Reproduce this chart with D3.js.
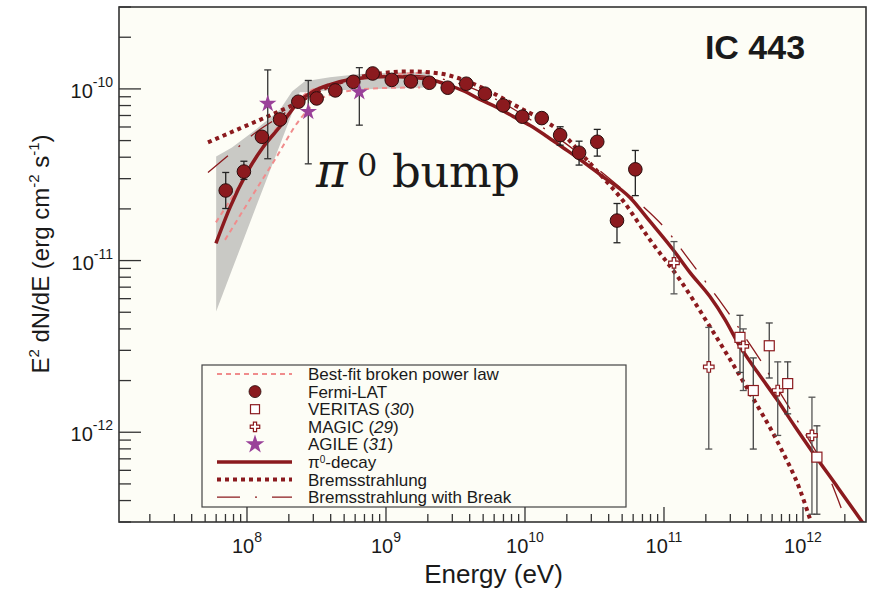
<!DOCTYPE html>
<html lang="en">
<head>
<meta charset="utf-8">
<title>IC 443 - gamma-ray spectrum</title>
<script src="https://cdnjs.cloudflare.com/ajax/libs/d3/7.8.5/d3.min.js"></script>
<style>
  body { margin: 0; background: #fff; }
  text { font-family: "Liberation Sans", Arial, Helvetica, sans-serif; fill: #1a1a1a; }
</style>
</head>
<body>
<script>
// values: energy in eV, E^2 dN/dE in erg cm^-2 s^-1

// Fermi-LAT points
var fermiE  = [7.03e7, 9.5e7, 1.28e8, 1.73e8, 2.34e8, 3.17e8, 4.32e8, 5.82e8, 8.02e8, 1.10e9, 1.51e9, 2.05e9,
               2.78e9, 3.78e9, 5.15e9, 6.98e9, 9.57e9, 1.32e10, 1.79e10, 2.45e10, 3.31e10, 4.59e10, 6.22e10];
var fermiF  = [2.56e-11, 3.30e-11, 5.26e-11, 6.64e-11, 8.42e-11, 8.80e-11, 9.80e-11, 1.10e-10, 1.23e-10, 1.128e-10, 1.106e-10, 1.086e-10,
               1.016e-10, 1.072e-10, 9.38e-11, 8.01e-11, 6.89e-11, 6.76e-11, 5.38e-11, 4.25e-11, 4.92e-11, 1.71e-11, 3.40e-11];
var fermiHi = [3.26e-11, 3.79e-11, 5.5e-11, 6.95e-11, 8.8e-11, 9.2e-11, 1.02e-10, 1.15e-10, 1.28e-10, 1.18e-10, 1.16e-10, 1.14e-10,
               1.06e-10, 1.12e-10, 9.8e-11, 8.4e-11, 7.25e-11, 7.2e-11, 6.02e-11, 4.96e-11, 5.81e-11, 2.15e-11, 4.38e-11];
var fermiLo = [2.01e-11, 2.97e-11, 5.0e-11, 6.35e-11, 8.05e-11, 8.4e-11, 9.4e-11, 1.05e-10, 1.18e-10, 1.08e-10, 1.06e-10, 1.04e-10,
               9.7e-11, 1.03e-10, 8.95e-11, 7.6e-11, 6.5e-11, 6.35e-11, 4.70e-11, 3.60e-11, 4.06e-11, 1.27e-11, 2.39e-11];

// AGILE (31)
var agileE  = [1.41e8, 2.76e8, 6.43e8];
var agileF  = [8.20e-11, 7.36e-11, 9.58e-11];
var agileHi = [1.29e-10, 1.12e-10, 1.33e-10];
var agileLo = [3.92e-11, 3.66e-11, 6.15e-11];

// VERITAS (30)
var veritasE  = [3.52e11, 4.39e11, 5.72e11, 7.76e11, 1.26e12];
var veritasF  = [3.57e-12, 1.75e-12, 3.19e-12, 1.92e-12, 7.16e-13];
var veritasHi = [4.80e-12, 2.71e-12, 4.33e-12, 2.57e-12, 1.09e-12];
var veritasLo = [2.23e-12, 7.98e-13, 2.07e-12, 1.28e-12, 3.33e-13];

// MAGIC (29)
var magicE  = [1.18e11, 2.10e11, 3.72e11, 6.58e11, 1.16e12];
var magicF  = [9.70e-12, 2.40e-12, 3.16e-12, 1.75e-12, 9.58e-13];
var magicHi = [1.29e-11, 4.08e-12, 4.00e-12, 2.57e-12, 1.60e-12];
var magicLo = [6.40e-12, 7.98e-13, 1.75e-12, 9.58e-13, 3.33e-13];

// pi0-decay model
var pionE = [5.98e7, 7.55e7, 1.00e8, 1.30e8, 1.73e8, 2.33e8, 2.99e8, 3.95e8, 5.51e8, 7.67e8, 1.07e9, 1.49e9,
             2.07e9, 2.75e9, 3.70e9, 4.74e9, 6.30e9, 8.20e9, 1.09e10, 1.44e10, 1.87e10, 2.49e10, 3.47e10, 5.69e10,
             7.93e10, 1.16e11, 1.54e11, 2.14e11, 2.75e11, 3.52e11, 4.74e11, 6.50e11, 8.75e11, 1.18e12, 1.79e12, 2.70e12];
var pionF = [1.26e-11, 2.04e-11, 3.26e-11, 4.56e-11, 6.04e-11, 8.34e-11, 9.66e-11, 1.06e-10, 1.135e-10, 1.167e-10, 1.183e-10, 1.167e-10,
             1.135e-10, 1.06e-10, 9.66e-11, 8.69e-11, 7.80e-11, 6.92e-11, 6.12e-11, 5.28e-11, 4.56e-11, 3.88e-11, 3.17e-11, 2.33e-11,
             1.69e-11, 1.16e-11, 8.51e-12, 6.17e-12, 4.53e-12, 3.16e-12, 2.22e-12, 1.55e-12, 1.08e-12, 7.60e-13, 4.74e-13, 2.96e-13];

// Bremsstrahlung model
var bremE = [5.24e7, 8.91e7, 1.46e8, 2.33e8, 3.35e8, 5.51e8, 9.06e8, 1.49e9, 2.44e9, 3.70e9, 5.60e9, 8.47e9,
             1.28e10, 1.79e10, 2.61e10, 3.58e10, 4.99e10, 7.93e10, 1.30e11, 2.14e11, 4.02e11, 6.84e11, 9.51e11, 1.14e12];
var bremF = [4.88e-11, 5.89e-11, 7.00e-11, 8.34e-11, 9.80e-11, 1.135e-10, 1.23e-10, 1.265e-10, 1.23e-10, 1.12e-10, 9.66e-11, 8.02e-11,
             6.73e-11, 5.65e-11, 4.09e-11, 3.09e-11, 2.27e-11, 1.32e-11, 7.74e-12, 4.12e-12, 1.77e-12, 8.22e-13, 4.62e-13, 3.01e-13];

// Bremsstrahlung with break
var breakE = [5.24e7, 7.80e7, 1.18e8, 1.73e8, 2.40e8, 3.35e8, 5.51e8, 9.06e8, 1.49e9, 2.44e9, 4.02e9, 6.61e9,
              1.09e10, 1.79e10, 2.94e10, 4.82e10, 7.06e10, 1.02e11, 1.44e11, 1.94e11, 2.70e11, 3.52e11, 4.91e11,
              6.84e11, 1.00e12, 1.49e12, 2.00e12];
var breakF = [3.26e-11, 4.27e-11, 5.65e-11, 6.92e-11, 8.34e-11, 9.66e-11, 1.11e-10, 1.18e-10, 1.20e-10, 1.15e-10, 1.02e-10, 8.45e-11,
              6.64e-11, 5.08e-11, 3.72e-11, 2.67e-11, 2.07e-11, 1.54e-11, 1.07e-11, 7.74e-12, 5.40e-12, 3.96e-12, 2.65e-12,
              1.70e-12, 1.03e-12, 5.81e-13, 3.17e-13];

// best-fit broken power law (two dashed pink traces) and its uncertainty band
var bplAE = [5.98e7, 8.91e7, 1.28e8, 1.87e8, 2.61e8, 3.95e8, 6.50e8, 1.26e9, 2.07e9];
var bplAF = [1.67e-11, 2.77e-11, 4.44e-11, 6.82e-11, 9.29e-11, 1.06e-10, 1.15e-10, 1.22e-10, 1.25e-10];
var bplBE = [6.95e7, 1.05e8, 1.59e8, 2.40e8, 3.35e8, 5.07e8, 9.06e8, 1.76e9];
var bplBF = [1.32e-11, 2.27e-11, 3.88e-11, 6.64e-11, 8.69e-11, 9.66e-11, 1.01e-10, 1.02e-10];
var bandE  = [6.0e7, 7.8e7, 1.16e8, 1.73e8, 2.11e8, 2.4e8, 2.61e8, 3.95e8, 6.5e8, 1.26e9, 2.07e9];
var bandHi = [4.04e-11, 4.56e-11, 5.81e-11, 7.59e-11, 9.66e-11, 1.05e-10, 1.11e-10, 1.17e-10, 1.22e-10, 1.25e-10, 1.25e-10];
var bandLo = [5.05e-12, 8.83e-12, 2.05e-11, 4.74e-11, 7.21e-11, 9.55e-11, 9.55e-11, 9.8e-11, 9.93e-11, 1.01e-10, 1.02e-10];

// axis tick labels (powers of ten)
var xTickExps = [8, 9, 10, 11, 12];
var yTickExps = [-10, -11, -12];

var legendLabels = ["Best-fit broken power law", "Fermi-LAT", "VERITAS (", "MAGIC (", "AGILE (", "-decay", "Bremsstrahlung", "Bremsstrahlung with Break"];
var legendRefs   = [null, null, "30", "29", "31", null, null, null];

// ---- layout
var width = 873, height = 594;
var plot = {left: 119, right: 866, top: 7, bottom: 522};
var darkRed = "#8b1a1e", pink = "#f08c8c", purple = "#9a4199", cream = "#fdfdf6", ink = "#333";

var x = d3.scaleLog().domain([1.2e7, 2.84e12]).range([plot.left, plot.right]);
var y = d3.scaleLog().domain([3e-13, 3e-10]).range([plot.bottom, plot.top]);

var svg = d3.select("body").append("svg")
    .attr("width", width)
    .attr("height", height);

svg.append("rect").attr("width", width).attr("height", height).attr("fill", "#fff");
svg.append("rect")
    .attr("x", plot.left).attr("y", plot.top)
    .attr("width", plot.right - plot.left).attr("height", plot.bottom - plot.top)
    .attr("fill", cream);

svg.append("clipPath").attr("id", "clip")
  .append("rect")
    .attr("x", plot.left).attr("y", plot.top)
    .attr("width", plot.right - plot.left).attr("height", plot.bottom - plot.top);

var g = svg.append("g").attr("clip-path", "url(#clip)");

function rows(e, f, lo, hi) {
    return e.map(function(v, i) {
        return {e: v, f: f[i], lo: lo ? lo[i] : null, hi: hi ? hi[i] : null};
    });
}

var line = d3.line()
    .x(function(d) { return x(d.e); })
    .y(function(d) { return y(d.f); })
    .curve(d3.curveMonotoneX);

// uncertainty band
var band = d3.area()
    .x(function(d) { return x(d.e); })
    .y0(function(d) { return y(d.lo); })
    .y1(function(d) { return y(d.hi); });

g.append("path")
    .datum(rows(bandE, bandHi, bandLo, bandHi))
    .attr("d", band)
    .attr("fill", "#c9c9c5");

// model curves
g.append("path").datum(rows(bplAE, bplAF)).attr("d", line)
    .attr("fill", "none").attr("stroke", pink).attr("stroke-width", 2).attr("stroke-dasharray", "5,4");
g.append("path").datum(rows(bplBE, bplBF)).attr("d", line)
    .attr("fill", "none").attr("stroke", pink).attr("stroke-width", 2).attr("stroke-dasharray", "5,4");

g.append("path").datum(rows(breakE, breakF)).attr("d", line)
    .attr("fill", "none").attr("stroke", darkRed).attr("stroke-width", 1.3)
    .attr("stroke-dasharray", "26,14,2,14");

g.append("path").datum(rows(bremE, bremF)).attr("d", line)
    .attr("fill", "none").attr("stroke", darkRed).attr("stroke-width", 4)
    .attr("stroke-dasharray", "4,4");

g.append("path").datum(rows(pionE, pionF)).attr("d", line)
    .attr("fill", "none").attr("stroke", darkRed).attr("stroke-width", 3.5);

// error bars
function errorBars(data, color) {
    var eb = g.append("g")
        .attr("stroke", color)
        .attr("stroke-width", 1.3)
      .selectAll("g")
      .data(data)
      .enter().append("g");
    eb.append("line")
        .attr("x1", function(d) { return x(d.e); })
        .attr("x2", function(d) { return x(d.e); })
        .attr("y1", function(d) { return y(d.lo); })
        .attr("y2", function(d) { return y(d.hi); });
    ["lo", "hi"].forEach(function(k) {
        eb.append("line")
            .attr("x1", function(d) { return x(d.e) - 3.5; })
            .attr("x2", function(d) { return x(d.e) + 3.5; })
            .attr("y1", function(d) { return y(d[k]); })
            .attr("y2", function(d) { return y(d[k]); });
    });
}

var fermi = rows(fermiE, fermiF, fermiLo, fermiHi);
var agile = rows(agileE, agileF, agileLo, agileHi);
var veritas = rows(veritasE, veritasF, veritasLo, veritasHi);
var magic = rows(magicE, magicF, magicLo, magicHi);

errorBars(magic, "#555");
errorBars(veritas, "#444");
errorBars(fermi, "#222");
errorBars(agile, "#333");

var star = d3.symbol().type(d3.symbolStar).size(95);
var cross = d3.symbol().type(d3.symbolCross).size(62);

function translate(d) { return "translate(" + x(d.e) + "," + y(d.f) + ")"; }

g.selectAll(".veritas").data(veritas).enter().append("rect")
    .attr("class", "veritas")
    .attr("x", function(d) { return x(d.e) - 5; })
    .attr("y", function(d) { return y(d.f) - 5; })
    .attr("width", 10).attr("height", 10)
    .attr("fill", "#fff").attr("stroke", darkRed).attr("stroke-width", 1.2);

g.selectAll(".magic").data(magic).enter().append("path")
    .attr("class", "magic")
    .attr("transform", translate)
    .attr("d", cross)
    .attr("fill", "#fff").attr("stroke", darkRed).attr("stroke-width", 1.2);

g.selectAll(".fermi").data(fermi).enter().append("circle")
    .attr("class", "fermi")
    .attr("cx", function(d) { return x(d.e); })
    .attr("cy", function(d) { return y(d.f); })
    .attr("r", 6.8)
    .attr("fill", darkRed).attr("stroke", "#2a0c0c").attr("stroke-width", 1);

g.selectAll(".agile").data(agile).enter().append("path")
    .attr("class", "agile")
    .attr("transform", translate)
    .attr("d", star)
    .attr("fill", purple);

// ---- legend
var lg = svg.append("g");
lg.append("rect")
    .attr("x", 202).attr("y", 365).attr("width", 424).attr("height", 142)
    .attr("fill", cream).attr("stroke", "#444").attr("stroke-width", 1.2);

var rowY = function(i) { return 374 + i * 17.6; };
var sx0 = 217, sx1 = 292, smid = 255;

lg.append("line").attr("x1", sx0).attr("x2", sx1).attr("y1", rowY(0)).attr("y2", rowY(0))
    .attr("stroke", pink).attr("stroke-width", 2).attr("stroke-dasharray", "5,4");
lg.append("circle").attr("cx", smid).attr("cy", rowY(1)).attr("r", 6)
    .attr("fill", darkRed).attr("stroke", "#2a0c0c").attr("stroke-width", 0.8);
lg.append("rect").attr("x", smid - 4.5).attr("y", rowY(2) - 4.5).attr("width", 9).attr("height", 9)
    .attr("fill", "#fff").attr("stroke", darkRed).attr("stroke-width", 1.2);
lg.append("path").attr("transform", "translate(" + smid + "," + rowY(3) + ")")
    .attr("d", d3.symbol().type(d3.symbolCross).size(50))
    .attr("fill", "#fff").attr("stroke", darkRed).attr("stroke-width", 1.2);
lg.append("path").attr("transform", "translate(" + smid + "," + rowY(4) + ")")
    .attr("d", d3.symbol().type(d3.symbolStar).size(110))
    .attr("fill", purple);
lg.append("line").attr("x1", sx0).attr("x2", sx1).attr("y1", rowY(5)).attr("y2", rowY(5))
    .attr("stroke", darkRed).attr("stroke-width", 3.5);
lg.append("line").attr("x1", sx0).attr("x2", sx1).attr("y1", rowY(6)).attr("y2", rowY(6))
    .attr("stroke", darkRed).attr("stroke-width", 4).attr("stroke-dasharray", "4,4");
lg.append("line").attr("x1", sx0).attr("x2", sx1).attr("y1", rowY(7)).attr("y2", rowY(7))
    .attr("stroke", darkRed).attr("stroke-width", 1.3).attr("stroke-dasharray", "23,15,2,15");

legendLabels.forEach(function(label, i) {
    var t = lg.append("text")
        .attr("x", 308).attr("y", rowY(i) + 6)
        .attr("font-size", 17);
    if (i === 5) {
        t.append("tspan").text("\u03c0");
        t.append("tspan").attr("font-size", 10).attr("dy", -5).text("0");
        t.append("tspan").attr("dy", 5).text(label);
    } else if (legendRefs[i]) {
        t.append("tspan").text(label);
        t.append("tspan").attr("font-style", "italic").text(legendRefs[i]);
        t.append("tspan").text(")");
    } else {
        t.text(label);
    }
});

// ---- frame and ticks
function isDecade(v) {
    var l = Math.log10(v);
    return Math.abs(l - Math.round(l)) < 1e-6;
}

var axes = svg.append("g").attr("stroke", ink);

axes.selectAll(".xt").data(x.ticks()).enter().append("line")
    .attr("x1", function(d) { return x(d); })
    .attr("x2", function(d) { return x(d); })
    .attr("y1", plot.bottom)
    .attr("y2", function(d) { return plot.bottom - (isDecade(d) ? 15 : 8); })
    .attr("stroke-width", 1.3);

axes.selectAll(".yt").data(y.ticks()).enter().append("line")
    .attr("x1", plot.left)
    .attr("x2", function(d) { return plot.left + (isDecade(d) ? 22 : 12); })
    .attr("y1", function(d) { return y(d); })
    .attr("y2", function(d) { return y(d); })
    .attr("stroke-width", 1.3);

svg.append("rect")
    .attr("x", plot.left).attr("y", plot.top)
    .attr("width", plot.right - plot.left).attr("height", plot.bottom - plot.top)
    .attr("fill", "none").attr("stroke", ink).attr("stroke-width", 1.6);

// tick labels
svg.selectAll(".xl").data(xTickExps).enter().append("text")
    .attr("x", function(d) { return x(Math.pow(10, d)); })
    .attr("y", 553)
    .attr("text-anchor", "middle")
    .attr("font-size", 20)
    .each(function(d) {
        var t = d3.select(this);
        t.append("tspan").text("10");
        t.append("tspan").attr("font-size", 14).attr("dy", -11).text(d);
    });

svg.selectAll(".yl").data(yTickExps).enter().append("text")
    .attr("x", 113)
    .attr("y", function(d) { return y(Math.pow(10, d)) + 9; })
    .attr("text-anchor", "end")
    .attr("font-size", 20)
    .each(function(d) {
        var t = d3.select(this);
        t.append("tspan").text("10");
        t.append("tspan").attr("font-size", 14).attr("dy", -11).text(d);
    });

// axis titles
svg.append("text")
    .attr("x", (plot.left + plot.right) / 2 + 1)
    .attr("y", 583)
    .attr("text-anchor", "middle")
    .attr("font-size", 26)
    .text("Energy (eV)");

var yt = svg.append("text")
    .attr("transform", "translate(49,254) rotate(-90)")
    .attr("text-anchor", "middle")
    .attr("font-size", 24);
yt.append("tspan").text("E");
yt.append("tspan").attr("font-size", 15).attr("dy", -10).text("2");
yt.append("tspan").attr("dy", 10).text(" dN/dE (erg cm");
yt.append("tspan").attr("font-size", 15).attr("dy", -10).text("-2");
yt.append("tspan").attr("dy", 10).text(" s");
yt.append("tspan").attr("font-size", 15).attr("dy", -10).text("-1");
yt.append("tspan").attr("dy", 10).text(")");

// source name
svg.append("text")
    .attr("x", 755).attr("y", 59)
    .attr("text-anchor", "middle")
    .attr("font-size", 34)
    .attr("font-weight", "bold")
    .text("IC 443");

// annotation
svg.append("text")
    .attr("x", 316).attr("y", 187)
    .style("font-family", "'DejaVu Serif', serif")
    .attr("font-style", "italic")
    .attr("font-size", 48)
    .text("\u03c0");
svg.append("text")
    .attr("x", 357).attr("y", 176)
    .style("font-family", "'DejaVu Serif', serif")
    .attr("font-size", 32)
    .text("0");
svg.append("text")
    .attr("x", 392).attr("y", 187)
    .style("font-family", "'DejaVu Serif', serif")
    .attr("font-size", 45)
    .attr("textLength", 128)
    .text("bump");
</script>
</body>
</html>
